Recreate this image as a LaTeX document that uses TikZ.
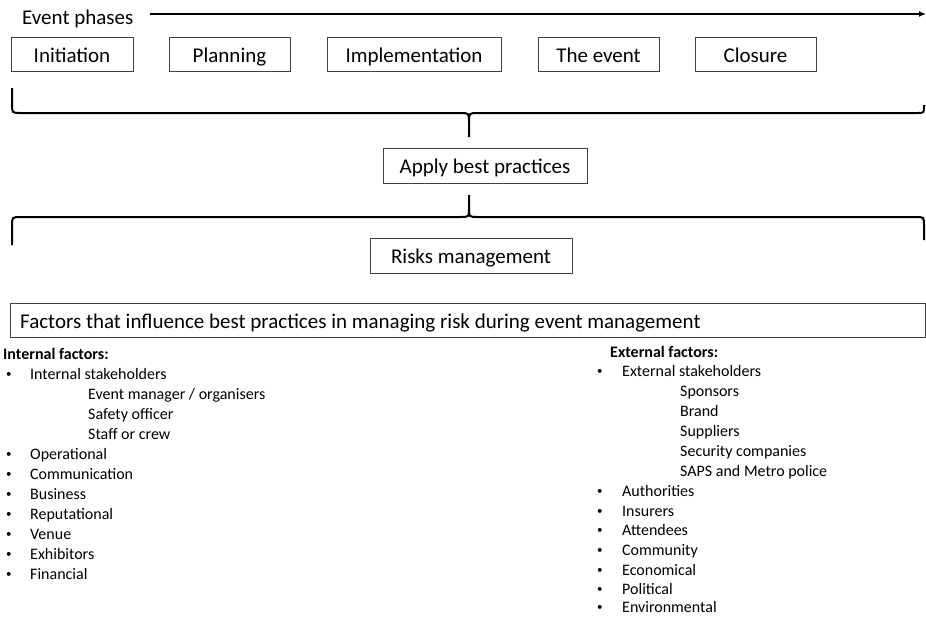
\documentclass[tikz,border=0pt]{standalone}
\usepackage{fontspec}
\setmainfont{Carlito}
\usetikzlibrary{arrows.meta}
\begin{document}
\begin{tikzpicture}[x=1pt,y=-1pt,
  phasebox/.style={draw=black!75,line width=1pt,minimum height=34pt,inner sep=0pt,text height=17pt,text depth=1pt,font=\fontsize{21}{24}\selectfont},
  bigtxt/.style={font=\fontsize{21}{24}\selectfont,inner sep=0pt,text height=17pt,text depth=1pt},
  listtxt/.style={font=\fontsize{16}{18}\selectfont,inner sep=0pt,anchor=west,text height=12pt,text depth=2.5pt},
  bullettxt/.style={font=\fontsize{11}{12}\selectfont,inner sep=0pt,anchor=west},
  headtxt/.style={font=\fontsize{16}{18}\selectfont\bfseries,inner sep=0pt,anchor=west,text height=12pt,text depth=2.5pt},
  bracepath/.style={line width=2pt,black}]
\useasboundingbox (0,0) rectangle (926,616);
% title and arrow
\node[bigtxt,anchor=west] (title) at (22,16) {Event phases};
\coordinate (arrowend) at (926,14);
\draw[line width=2pt,-{Latex[length=7pt,width=6pt]}] (150,14) -- (arrowend);
% phase boxes
\node[phasebox,minimum width=122pt] (init) at (72,54) {Initiation};
\node[phasebox,minimum width=121pt] (plan) at (229.5,54) {Planning};
\node[phasebox,minimum width=174pt] (impl) at (414,54) {Implementation};
\node[phasebox,minimum width=121pt] (evt) at (598.5,54) {The event};
\node[phasebox,minimum width=121pt] (clos) at (755.5,54) {Closure};
% top brace
\draw[bracepath] (12,88) -- (12,104) .. controls (12,113) .. (21,113) -- (460,113)
  .. controls (469,113) .. (469,122) -- (469,137);
\draw[bracepath] (469,122) .. controls (469,113) .. (478,113) -- (918,113)
  .. controls (924,113) .. (924,105);
% apply best practices
\node[phasebox,minimum width=204pt,minimum height=35pt] (apply) at (485,165.5) {Apply best practices};
% bottom brace
\draw[bracepath] (469,195) -- (469,209) .. controls (469,217) .. (460,217) -- (21,217)
  .. controls (12,217) .. (12,226) -- (12,245);
\draw[bracepath] (469,209) .. controls (469,217) .. (478,217) -- (916,217)
  .. controls (924,217) .. (924,226) -- (924,240);
% risks management
\node[phasebox,minimum width=202pt,minimum height=35pt] (risk) at (471,255.5) {Risks management};
% factors box
\node[draw=black!75,line width=1pt,minimum width=915pt,minimum height=34pt,inner sep=0pt] (fbox) at (467.5,320) {};
\node[bigtxt,anchor=west] (ftxt) at (20,320) {Factors that influence best practices in managing risk during event management};
% internal factors
\node[headtxt] (ih) at (3,355) {Internal factors:};
\foreach \t/\y [count=\i] in {Internal stakeholders/375,Operational/455,Communication/475,Business/495,Reputational/515,Venue/535,Exhibitors/555,Financial/575}{
  \node[bullettxt] (ib\i) at (6,\y) {•};
  \node[listtxt] (it\i) at (30,\y) {\t};
}
\node[listtxt] (is1) at (88,395) {Event manager / organisers};
\node[listtxt] (is2) at (88,415) {Safety officer};
\node[listtxt] (is3) at (88,435) {Staff or crew};
% external factors
\node[headtxt] (eh) at (610,353) {External factors:};
\foreach \t/\y [count=\i] in {External stakeholders/372,Authorities/492,Insurers/512,Attendees/531,Community/551,Economical/571,Political/590,Environmental/608}{
  \node[bullettxt] (eb\i) at (597,\y) {•};
  \node[listtxt] (et\i) at (622,\y) {\t};
}
\foreach \t/\y [count=\i] in {Sponsors/392,Brand/412,Suppliers/432,Security companies/452,SAPS and Metro police/472}{
  \node[listtxt] (es\i) at (680,\y) {\t};
}
\end{tikzpicture}
\end{document}
